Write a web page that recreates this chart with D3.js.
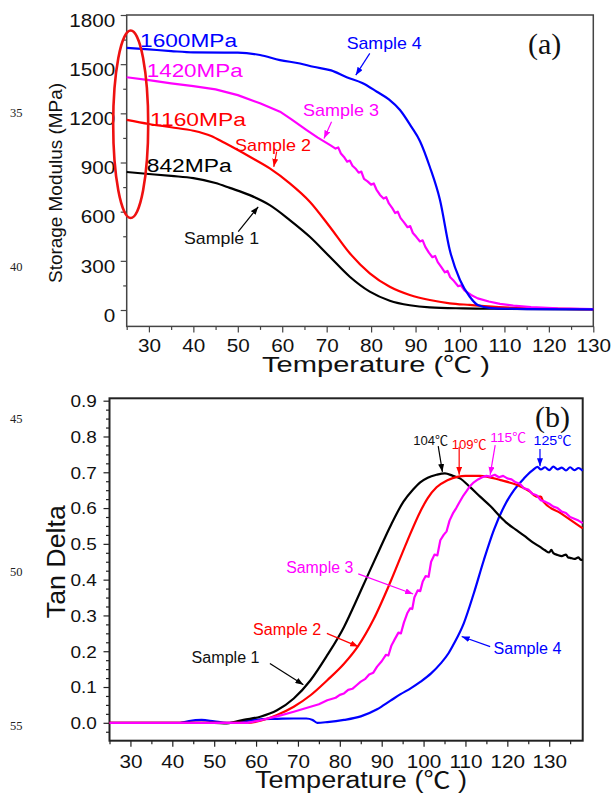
<!DOCTYPE html>
<html>
<head>
<meta charset="utf-8">
<script src="https://cdn.jsdelivr.net/npm/d3@7"></script>
<style>
  body { margin: 0; background: #fff; }
  svg { display: block; }
</style>
</head>
<body>
<svg id="chart" width="613" height="793"></svg>
<script>
// ---- data: panel (a) storage modulus, [temperature, MPa]
const modulusTicks = [0, 300, 600, 900, 1200, 1500, 1800];
const modulusMinor = [150, 450, 750, 1050, 1350, 1650];
const tempTicksA = [30, 40, 50, 60, 70, 80, 90, 100, 110, 120, 130];
const tempMinorA = [25, 35, 45, 55, 65, 75, 85, 95, 105, 115, 125];

const modulus1 = [[25,842],[30,830],[35,818],[40,805],[45,775],[48.2,745],[52.7,701],[57.2,640],[61.7,549],[66.2,447],[70.7,325],[75.2,203],[79.7,112],[84.2,57],[88.7,29],[93.2,16],[100.7,10],[110,7],[130,4]];
const modulus2 = [[25,1160],[30,1135],[35,1115],[40,1094],[44,1062],[47,1020],[52.7,935],[57.2,864],[61.7,773],[66.2,661],[70.7,508],[75.2,346],[79.7,224],[84.2,142],[88.7,92],[93.2,61],[97.7,41],[102.2,31],[110,16],[120,9],[130,5]];
const modulus3 = [[25,1420],[30,1403],[35,1383],[40,1366],[45,1346],[50,1311],[55,1261],[59.5,1210],[62,1165],[65.5,1098],[68,1052],[70.8,1006],
  [72,985],[72.6,992],[73.2,955],[74,930],[74.6,905],[75.2,912],[75.8,880],[76.6,860],[77.2,838],[77.8,845],[78.4,800],[79.2,785],[80,765],[80.6,772],
  [81.2,735],[82,702],[82.8,680],[83.4,688],[84,650],[84.8,620],[85.4,592],[86,600],[86.6,562],[87.4,535],[88.2,505],[88.8,512],[89.4,470],[90.2,445],
  [91,418],[91.6,425],[92.2,385],[93,350],[93.8,322],[94.4,330],[95,292],[95.8,262],[96.6,230],[97.2,238],[97.8,200],[98.6,178],[99.6,145],[100.2,150],
  [101,120],[102.5,92],[104,71],[106.5,52],[109,37],[112,27],[116,18],[122,10],[130,6]];
const modulus4 = [[25,1600],[30,1590],[35,1580],[40,1572],[50,1570],[55,1556],[59.5,1525],[64,1504],[67,1484],[71,1462],[74.5,1420],[78,1385],[81.3,1332],[84,1285],[86.5,1220],[89,1120],[91,1030],[93.2,874],[95.5,671],[97.7,366],[100,183],[102.2,81],[104,30],[107,12],[115,6],[130,4]];

// ---- data: panel (b) tan delta, [temperature, tan delta]
const tanTicks = [0.0, 0.1, 0.2, 0.3, 0.4, 0.5, 0.6, 0.7, 0.8, 0.9];
const tanMinor = [-0.025, 0.025, 0.05, 0.075, 0.125, 0.15, 0.175, 0.225, 0.25, 0.275, 0.325, 0.35, 0.375, 0.425, 0.45, 0.475, 0.525, 0.55, 0.575, 0.625, 0.65, 0.675, 0.725, 0.75, 0.775, 0.825, 0.85, 0.875];
const tempTicksB = [30, 40, 50, 60, 70, 80, 90, 100, 110, 120, 130];
const tempMinorB = [25, 35, 45, 55, 65, 75, 85, 95, 105, 115, 125, 135];

const tan1 = [[25,0],[50,0],[53,-0.002],[55,0.003],[57,0.008],[61,0.017],[65,0.035],[69,0.068],[73,0.119],[77,0.189],[81,0.268],[83.5,0.33],[86.4,0.405],[89.7,0.49],[92.1,0.55],[95.2,0.618],[97.5,0.652],[99.2,0.672],[101,0.685],[103.1,0.693],[105.1,0.697],[107,0.69],[108.7,0.683],[111,0.66],[113.5,0.632],[116,0.605],[118.3,0.576],[120,0.557],[122,0.54],[124,0.523],[126,0.505],[128,0.49],[129,0.482],[130,0.476],[130.5,0.483],[131,0.474],[132,0.469],[133,0.466],[134,0.47],[134.5,0.462],[135,0.461],[136,0.458],[137,0.462],[137.5,0.456],[138,0.455]];
const tan2 = [[25,0],[58,0],[60,0.003],[65,0.022],[69,0.045],[73,0.077],[77,0.119],[81,0.165],[84.4,0.215],[88.1,0.29],[92.1,0.394],[96,0.505],[99.2,0.59],[101,0.628],[103.1,0.658],[105.7,0.678],[108.3,0.688],[110,0.69],[113.5,0.69],[118.4,0.678],[122.2,0.665],[125.4,0.646],[127,0.632],[128,0.632],[128.6,0.618],[132.8,0.585],[138,0.543]];
const tan3 = [[25,0],[58,0],[61,0.007],[65,0.018],[69,0.031],[73,0.045],[75,0.052],[77,0.063],[79,0.07],[80,0.078],[81,0.082],[82,0.092],[83,0.095],[84,0.105],[85,0.115],[86,0.122],[87,0.135],[88,0.14],[88.9,0.157],[90,0.172],[91,0.19],[91.6,0.188],[92.3,0.215],[93,0.231],[94,0.252],[94.6,0.25],[95.3,0.28],[96.1,0.306],[96.8,0.32],[97.3,0.318],[97.8,0.35],[98.6,0.37],[99.2,0.368],[99.8,0.395],[100.5,0.41],[101.2,0.408],[101.8,0.45],[102.6,0.47],[103.3,0.468],[104,0.51],[104.8,0.525],[105.5,0.535],[106.2,0.565],[107,0.585],[107.8,0.6],[108.5,0.615],[109.5,0.635],[110.3,0.648],[111,0.66],[112,0.672],[113,0.68],[114,0.686],[115,0.69],[116,0.688],[117,0.693],[118,0.686],[119,0.69],[120,0.683],[121,0.68],[122,0.672],[123,0.668],[124,0.655],[125,0.652],[126,0.64],[127,0.636],[128,0.622],[129,0.618],[130,0.612],[131,0.604],[132,0.6],[133,0.59],[134,0.586],[135,0.575],[136,0.57],[137,0.565],[138,0.558]];
const tan4 = [[42,0],[44,0.005],[47,0.008],[50,0.004],[53,0],[57,0.004],[61,0.01],[65,0.011],[69,0.012],[72,0.012],[73.5,0.008],[74.6,0],[77,0.002],[81,0.008],[85,0.018],[88.9,0.038],[92.1,0.062],[94.5,0.08],[97,0.097],[99.3,0.115],[101.8,0.138],[104.1,0.166],[106,0.195],[107.3,0.222],[109.6,0.278],[112,0.362],[114.4,0.455],[116.8,0.539],[119.2,0.604],[121.6,0.65],[124,0.683],[125,0.695],[126,0.705],[127.2,0.715],[128,0.708],[129,0.714],[130,0.706],[131,0.716],[132,0.708],[133,0.713],[134,0.705],[135,0.714],[136,0.706],[137,0.712],[138,0.704]];

const sampleNames = ['Sample 1', 'Sample 2', 'Sample 3', 'Sample 4'];
const startModulus = ['842MPa', '1160MPa', '1420MPa', '1600MPa'];
const peakLabels = ['104℃', '109℃', '115℃', '125℃'];
const colors = ['#000000', '#ff0000', '#ff00ff', '#0000ff'];

const sans = '"Liberation Sans", Arial, "Noto Sans CJK SC", sans-serif';
const serif = '"Liberation Serif", "Times New Roman", serif';
const cjk = '"Noto Sans CJK SC", "Noto Sans CJK JP", sans-serif';

const svg = d3.select('#chart');

// scales
const xA = d3.scaleLinear().domain([25, 130]).range([126.7, 593.3]);
const yA = d3.scaleLinear().domain([-100, 1800]).range([326.4, 15]);
const xB = d3.scaleLinear().domain([25, 138]).range([109.5, 582.7]);
const yB = d3.scaleLinear().domain([-0.05, 0.9067]).range([740.7, 398.3]);

// arrow heads
const defs = svg.append('defs');
colors.forEach((c, i) => {
  defs.append('marker')
    .attr('id', 'arrow' + i)
    .attr('viewBox', '0 0 8 6')
    .attr('refX', 8).attr('refY', 3)
    .attr('markerWidth', 8).attr('markerHeight', 6)
    .attr('markerUnits', 'userSpaceOnUse')
    .attr('orient', 'auto')
    .append('path').attr('d', 'M0,0L8,3L0,6Z').attr('fill', c);
});

function drawAxes(x, y, o) {
  const y0 = y.range()[0], x0 = x.range()[0];
  const gx = svg.append('g').attr('transform', `translate(0,${y0})`)
    .call(d3.axisBottom(x).tickValues(o.xMajor).tickSize(6).tickFormat(d3.format('d')));
  const gxm = svg.append('g').attr('transform', `translate(0,${y0})`)
    .call(d3.axisBottom(x).tickValues(o.xMinor).tickSize(3.5).tickFormat(''));
  const gy = svg.append('g').attr('transform', `translate(${x0},0)`)
    .call(d3.axisLeft(y).tickValues(o.yMajor).tickSize(6).tickFormat(o.yFormat));
  const gym = svg.append('g').attr('transform', `translate(${x0},0)`)
    .call(d3.axisLeft(y).tickValues(o.yMinor).tickSize(3.5).tickFormat(''));
  [gx, gxm, gy, gym].forEach(g => {
    g.select('.domain').remove();
    g.selectAll('line').attr('stroke', o.stroke).attr('stroke-width', 1.2);
    g.attr('font-family', sans);
  });
  gx.attr('font-size', o.xFont);
  gx.selectAll('text').attr('y', 0).attr('dy', 0).attr('fill', '#111')
    .attr('transform', `translate(0,${o.xLabelY}) scale(1.15,1)`);
  gy.attr('font-size', o.yFont);
  gy.selectAll('text').attr('x', 0).attr('dy', '0.35em').attr('fill', '#111')
    .attr('transform', `translate(${o.yLabelX},${o.yLabelDy}) scale(1.15,1)`);
  svg.append('rect')
    .attr('x', x0).attr('y', y.range()[1])
    .attr('width', x.range()[1] - x0).attr('height', y0 - y.range()[1])
    .attr('fill', 'none').attr('stroke', o.stroke).attr('stroke-width', o.frameWidth);
}

function drawCurves(x, y, series) {
  const g = svg.append('g');
  series.forEach(s => {
    const line = d3.line().x(d => x(d[0])).y(d => y(d[1]))
      .curve(s.smooth ? d3.curveMonotoneX : d3.curveLinear);
    g.append('path').datum(s.data)
      .attr('d', line).attr('fill', 'none')
      .attr('stroke', colors[s.c]).attr('stroke-width', 2.2)
      .attr('stroke-linejoin', 'round');
  });
}

// text helper; the ℃ sign is set in a CJK font so it keeps its full width
function label(x, y, text, o) {
  const t = svg.append('text')
    .attr('x', x).attr('y', y)
    .attr('font-family', o.family || sans)
    .attr('font-size', o.size)
    .attr('fill', o.fill || '#000')
    .attr('text-anchor', o.anchor || 'start')
    .attr('textLength', o.len || null)
    .attr('lengthAdjust', 'spacingAndGlyphs')
    .attr('transform', o.rotate ? `rotate(-90,${x},${y})` : null);
  text.split(/(℃)/).filter(p => p.length).forEach(p => {
    const ts = t.append('tspan').text(p);
    if (p === '℃') ts.attr('font-family', cjk);
  });
  return t;
}

function arrow(x, y, from, to, c) {
  svg.append('line')
    .attr('x1', x(from[0])).attr('y1', y(from[1]))
    .attr('x2', x(to[0])).attr('y2', y(to[1]))
    .attr('stroke', colors[c]).attr('stroke-width', 1.2)
    .attr('marker-end', `url(#arrow${c})`);
}

// ---------- panel (a)
drawAxes(xA, yA, {
  xMajor: tempTicksA, xMinor: tempMinorA, yMajor: modulusTicks, yMinor: modulusMinor,
  yFormat: d3.format('d'), xFont: 18, yFont: 18, xLabelY: 26, yLabelX: -11.5, yLabelDy: 5,
  stroke: '#444', frameWidth: 1.5
});
drawCurves(xA, yA, [
  { data: modulus1, c: 0, smooth: true }, { data: modulus2, c: 1, smooth: true },
  { data: modulus3, c: 2, smooth: false }, { data: modulus4, c: 3, smooth: true }
]);

// highlight ellipse around starting values
svg.append('ellipse')
  .attr('cx', xA(25.9)).attr('cy', yA(1133))
  .attr('rx', xA(25.9 + 3.94) - xA(25.9)).attr('ry', yA(1133) - yA(1133 + 572))
  .attr('fill', 'none').attr('stroke', '#ee1111').attr('stroke-width', 2.6);

label(xA(29.5), yA(845), startModulus[0], { size: 18, fill: colors[0], len: 85 });
label(xA(30.24), yA(1125), startModulus[1], { size: 18, fill: colors[1], len: 96 });
label(xA(29.5), yA(1421), startModulus[2], { size: 18, fill: colors[2], len: 96 });
label(xA(28), yA(1604), startModulus[3], { size: 18, fill: colors[3], len: 97 });

label(xA(37.9), yA(403), sampleNames[0], { size: 17, fill: '#111', len: 75 });
label(xA(49.4), yA(970), sampleNames[1], { size: 17, fill: colors[1], len: 76 });
label(xA(64.7), yA(1183), sampleNames[2], { size: 17, fill: colors[2], len: 76 });
label(xA(74.5), yA(1592), sampleNames[3], { size: 17, fill: colors[3], len: 75 });
arrow(xA, yA, [50.1, 478], [54.6, 630], 0);
arrow(xA, yA, [58.75, 966], [58.1, 874], 1);
arrow(xA, yA, [71.1, 1149], [69.4, 1047], 2);
arrow(xA, yA, [79.7, 1566], [76.55, 1433], 3);

label(528, 54, '(a)', { size: 30, family: serif, fill: '#111' });
label(262, 372, 'Temperature (℃ )', { size: 21.5, fill: '#111', len: 228 });
label(62, 183, 'Storage Modulus (MPa)', { size: 18, fill: '#111', len: 200, anchor: 'middle', rotate: true });

// ---------- panel (b)
drawAxes(xB, yB, {
  xMajor: tempTicksB, xMinor: tempMinorB, yMajor: tanTicks, yMinor: tanMinor,
  yFormat: d3.format('.1f'), xFont: 18, yFont: 16.5, xLabelY: 27, yLabelX: -12.6, yLabelDy: 0,
  stroke: '#222', frameWidth: 2
});
drawCurves(xB, yB, [
  { data: tan4, c: 3, smooth: true }, { data: tan1, c: 0, smooth: true },
  { data: tan2, c: 1, smooth: true }, { data: tan3, c: 2, smooth: false }
]);

label(xB(101.7), yB(0.776), peakLabels[0], { size: 13, fill: '#111', anchor: 'middle', len: 35 });
label(xB(110.9), yB(0.765), peakLabels[1], { size: 13, fill: colors[1], anchor: 'middle', len: 35 });
label(xB(120.2), yB(0.785), peakLabels[2], { size: 13, fill: colors[2], anchor: 'middle', len: 36 });
label(xB(130.8), yB(0.776), peakLabels[3], { size: 13, fill: colors[3], anchor: 'middle', len: 38 });
arrow(xB, yB, [103.5, 0.773], [104.5, 0.701], 0);
arrow(xB, yB, [108.5, 0.771], [108.5, 0.693], 1);
arrow(xB, yB, [117.1, 0.776], [115.9, 0.693], 2);
arrow(xB, yB, [127.8, 0.765], [127.8, 0.717], 3);

label(xB(44.6), yB(0.167), sampleNames[0], { size: 16, fill: '#111', len: 68 });
label(xB(59.3), yB(0.245), sampleNames[1], { size: 16, fill: colors[1], len: 68 });
label(xB(67.2), yB(0.419), sampleNames[2], { size: 16, fill: colors[2], len: 67 });
label(xB(116.7), yB(0.192), sampleNames[3], { size: 16, fill: colors[3], len: 68 });
arrow(xB, yB, [63.3, 0.166], [71.3, 0.106], 0);
arrow(xB, yB, [76.9, 0.25], [84.4, 0.213], 1);
arrow(xB, yB, [84.4, 0.416], [97.5, 0.36], 2);
arrow(xB, yB, [115.9, 0.213], [109.1, 0.241], 3);

label(535, 427, '(b)', { size: 30, family: serif, fill: '#111' });
label(255, 788, 'Temperature (℃ )', { size: 23, fill: '#111', len: 212 });
label(65, 561.7, 'Tan Delta', { size: 26, fill: '#111', len: 113, anchor: 'middle', rotate: true });

// manuscript line numbers in the margin
const lineNumbers = ['35', '40', '45', '50', '55'];
const lineNumberY = [117.3, 270.7, 423.3, 576, 730];
lineNumbers.forEach((t, i) => label(10, lineNumberY[i], t, { size: 12.5, family: serif, fill: '#222' }));
</script>
</body>
</html>
